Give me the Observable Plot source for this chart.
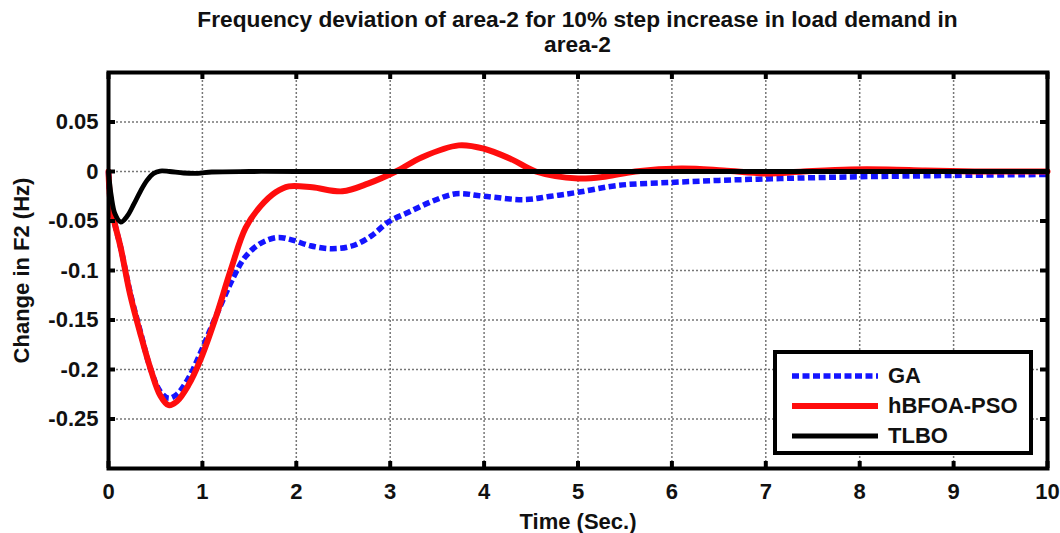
<!DOCTYPE html>
<html>
<head>
<meta charset="utf-8">
<script src="https://cdn.jsdelivr.net/npm/d3@7"></script>
<script src="https://cdn.jsdelivr.net/npm/@observablehq/plot@0.6"></script>
<style>
  html, body { margin: 0; padding: 0; background: #fff; }
  #wrap { position: relative; width: 1060px; height: 533px; font-family: "Liberation Sans", Arial, sans-serif; font-weight: bold; }
  #title { height: 58px; width: 1060px; box-sizing: border-box; padding-left: 108px; padding-right: 13px; padding-top: 7px;
           text-align: center; font-size: 22.7px; line-height: 25px; color: #111; white-space: nowrap; }
  #legend { position: absolute; left: 773px; top: 350px; width: 260px; height: 105px; box-sizing: border-box;
            border: 4px solid #000; background: #fff; }
  .row { position: absolute; left: 15px; height: 30px; display: flex; align-items: center; font-size: 22px; color: #111; }
  .row svg { margin-right: 10px; }
</style>
</head>
<body>
<div id="wrap">
  <div id="title">Frequency deviation of area-2 for 10% step increase in load demand in<br>area-2</div>
  <div id="chart"></div>
  <div id="legend"></div>
</div>
<script>
// ---- data ----
const seriesNames = ["GA", "hBFOA-PSO", "TLBO"];

const gaTime = [0, 0.02, 0.06, 0.13, 0.23, 0.34, 0.45, 0.55, 0.64, 0.73, 0.85, 0.98, 1.14, 1.33, 1.45, 1.58, 1.7, 1.81, 1.95, 2.15, 2.38, 2.6, 2.8, 2.98, 3.2, 3.45, 3.7, 4.0, 4.43, 4.71, 5.0, 5.43, 6.0, 6.5, 7.0, 7.5, 8.0, 9.0, 10];
const gaValue = [0, -0.03, -0.05, -0.077, -0.122, -0.162, -0.2, -0.222, -0.229, -0.225, -0.209, -0.183, -0.147, -0.107, -0.087, -0.075, -0.069, -0.0666, -0.069, -0.075, -0.078, -0.075, -0.065, -0.051, -0.041, -0.03, -0.0225, -0.025, -0.0284, -0.025, -0.021, -0.014, -0.011, -0.009, -0.0075, -0.0063, -0.0053, -0.004, -0.003];

const hbTime = [0, 0.02, 0.06, 0.13, 0.23, 0.34, 0.45, 0.55, 0.64, 0.73, 0.85, 0.98, 1.14, 1.3, 1.46, 1.62, 1.78, 1.92, 2.17, 2.49, 2.77, 3.06, 3.34, 3.73, 4.0, 4.3, 4.55, 5.0, 5.3, 5.61, 6.1, 6.55, 7.0, 7.4, 7.9, 8.3, 8.7, 9.3, 10];
const hbValue = [0, -0.03, -0.05, -0.077, -0.124, -0.164, -0.2, -0.226, -0.236, -0.232, -0.216, -0.19, -0.148, -0.1, -0.057, -0.035, -0.021, -0.015, -0.016, -0.02, -0.012, 0, 0.0145, 0.0264, 0.023, 0.012, 0, -0.007, -0.005, 0, 0.003, 0.001, -0.002, 0, 0.002, 0.002, 0.001, 0, 0];

const tlTime = [0, 0.03, 0.07, 0.13, 0.2, 0.27, 0.34, 0.41, 0.48, 0.55, 0.65, 0.8, 0.95, 1.1, 1.5, 2, 10];
const tlValue = [0, -0.025, -0.043, -0.051, -0.045, -0.033, -0.02, -0.009, -0.002, 0.0005, 0, -0.0015, -0.0018, -0.0005, 0, 0, 0];

const xTicks = [0, 1, 2, 3, 4, 5, 6, 7, 8, 9, 10];
const yTicks = [0.05, 0, -0.05, -0.1, -0.15, -0.2, -0.25];
const yTickLabels = ["0.05", "0", "-0.05", "-0.1", "-0.15", "-0.2", "-0.25"];

// ---- build tables ----
const ga = gaTime.map((t, i) => ({t, v: gaValue[i]}));
const hb = hbTime.map((t, i) => ({t, v: hbValue[i]}));
const tl = tlTime.map((t, i) => ({t, v: tlValue[i]}));

const colors = {"GA": "#1414ff", "hBFOA-PSO": "#ff0d0d", "TLBO": "#000000"};

const W = 1060, H = 475, mt = 14, mb = 65, ml = 108, mr = 13;
const plotH = H - mt - mb;
const font = "'Liberation Sans', Arial, sans-serif";

const chart = Plot.plot({
  width: W, height: H,
  marginTop: mt, marginBottom: mb, marginLeft: ml, marginRight: mr,
  style: {fontFamily: font, fontWeight: "bold", fontSize: "22px", color: "#111", background: "#fff"},
  x: {domain: [0, 10]},
  y: {domain: [-0.3, 0.1]},
  marks: [
    Plot.gridX(xTicks, {stroke: "#777", strokeOpacity: 1, strokeWidth: 1.5, strokeDasharray: "2,2"}),
    Plot.gridY(yTicks, {stroke: "#777", strokeOpacity: 1, strokeWidth: 1.5, strokeDasharray: "2,2"}),
    Plot.line(ga, {x: "t", y: "v", stroke: colors["GA"], strokeWidth: 5.5, strokeDasharray: "7,3.5", strokeLinecap: "butt", curve: "catmull-rom"}),
    Plot.line(hb, {x: "t", y: "v", stroke: colors["hBFOA-PSO"], strokeWidth: 6, curve: "catmull-rom"}),
    Plot.line(tl, {x: "t", y: "v", stroke: colors["TLBO"], strokeWidth: 4.8, curve: "catmull-rom"}),
    Plot.axisX(xTicks, {tickSize: 0, tickPadding: 15, label: null, fontSize: 22}),
    Plot.axisY(yTicks, {tickSize: 0, tickPadding: 10, label: null, fontSize: 22, tickFormat: (d) => yTickLabels[yTicks.indexOf(d)]}),
    Plot.tickX(xTicks, {x: d => d, insetTop: plotH - 7, stroke: "#000", strokeWidth: 4}),
    Plot.tickX(xTicks, {x: d => d, insetBottom: plotH - 7, stroke: "#000", strokeWidth: 4}),
    Plot.tickY(yTicks, {y: d => d, insetLeft: (W - ml - mr) - 7, stroke: "#000", strokeWidth: 4}),
    Plot.tickY(yTicks, {y: d => d, insetRight: (W - ml - mr) - 7, stroke: "#000", strokeWidth: 4}),
    Plot.frame({stroke: "#000", strokeWidth: 4}),
    Plot.text(["Time (Sec.)"], {frameAnchor: "bottom", textAnchor: "middle", lineAnchor: "middle", dy: 53, fontSize: 22, fontWeight: "bold", fill: "#111"}),
    Plot.text(["Change in F2 (Hz)"], {frameAnchor: "left", textAnchor: "middle", lineAnchor: "middle", dx: -87, rotate: -90, fontSize: 22, fontWeight: "bold", fill: "#111"})
  ]
});
document.getElementById("chart").appendChild(chart);

// ---- legend ----
const legend = document.getElementById("legend");
const rowTops = [7, 37, 67];
const styles = {
  "GA": {w: 5.5, dash: "7,3.5"},
  "hBFOA-PSO": {w: 6, dash: null},
  "TLBO": {w: 4.8, dash: null}
};
seriesNames.forEach((name, i) => {
  const row = document.createElement("div");
  row.className = "row";
  row.style.top = rowTops[i] + "px";
  const s = styles[name];
  row.innerHTML = `<svg width="86" height="12"><line x1="0" x2="86" y1="6" y2="6" stroke="${colors[name]}" stroke-width="${s.w}" ${s.dash ? `stroke-dasharray="${s.dash}"` : ""}/></svg><span>${name}</span>`;
  legend.appendChild(row);
});
</script>
</body>
</html>
